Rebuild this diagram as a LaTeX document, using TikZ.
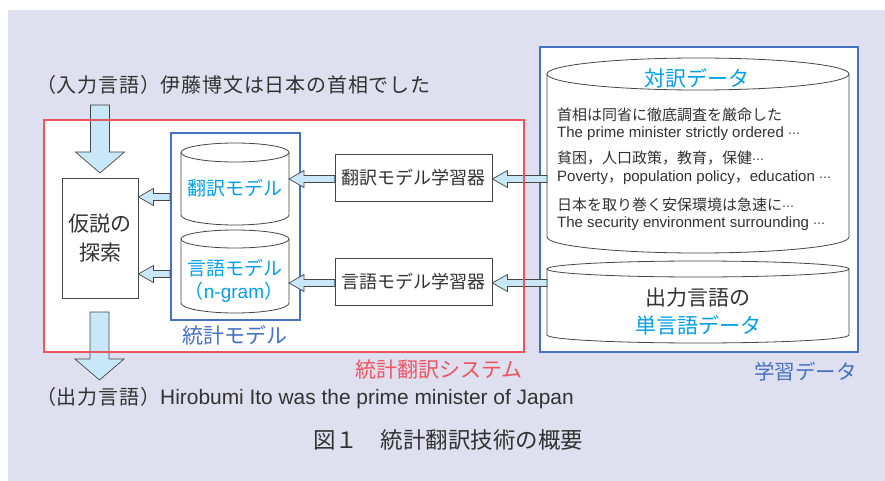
\documentclass[tikz,border=0pt]{standalone}
\usepackage{fontspec}
\setmainfont{Liberation Sans}
\newfontfamily\jp{Noto Sans CJK JP}
\newfontfamily\jpw[LetterSpace=4]{Noto Sans CJK JP}
\newfontfamily\dv{DejaVu Sans}
\newfontfamily\lat{Liberation Sans}
\usetikzlibrary{calc}
\definecolor{bgc}{RGB}{222,223,239}
\definecolor{redc}{RGB}{236,85,95}
\definecolor{bluec}{RGB}{70,112,192}
\definecolor{cyanc}{RGB}{0,160,230}
\definecolor{txtc}{RGB}{50,50,50}
\definecolor{arrfill}{RGB}{200,232,248}
\definecolor{linec}{RGB}{70,70,70}
\newcommand\fs[1]{\fontsize{#1}{#1}\selectfont}
\newcommand\mydots{{\dv\fontsize{12}{12}\selectfont ⋯}}
\tikzset{
  lbl/.style={inner sep=0pt, text=txtc, font=\jp},
  graybox/.style={draw=linec, line width=0.8pt, fill=white},
  blockarrow/.style={draw=linec, line width=0.7pt, fill=arrfill, line join=miter},
  cylside/.style={draw=linec, line width=0.8pt},
}
% left-pointing block arrow: #1 tail, #2 tip
\newcommand\larrow[2]{%
  \draw[blockarrow] let \p1=#1, \p2=#2 in
    (\x2,\y2) -- (\x2+15pt,\y2+8.5pt) -- (\x2+15pt,\y2+3.5pt) -- (\x1,\y2+3.5pt)
    -- (\x1,\y2-3.5pt) -- (\x2+15pt,\y2-3.5pt) -- (\x2+15pt,\y2-8.5pt) -- cycle;}
% downward block arrow: #1 tail, #2 tip
\newcommand\darrow[2]{%
  \draw[blockarrow] let \p1=#1, \p2=#2 in
    (\x2,\y2) -- (\x2-24.5pt,\y2+21pt) -- (\x2-9.5pt,\y2+21pt) -- (\x2-9.5pt,\y1)
    -- (\x2+9.5pt,\y1) -- (\x2+9.5pt,\y2+21pt) -- (\x2+24.5pt,\y2+21pt) -- cycle;}
% cylinder: #1 left, #2 right, #3 top center y, #4 top ry, #5 side bottom y, #6 bottom ry
\newcommand\cyl[6]{%
  \pgfmathsetmacro\rx{(#2-#1)/2}%
  \fill[white] (#1,#3) -- (#1,#5) arc[start angle=180,end angle=360,x radius=\rx pt,y radius=#6pt] -- (#2,#3) -- cycle;
  \draw[cylside] (#1,#3) -- (#1,#5) arc[start angle=180,end angle=360,x radius=\rx pt,y radius=#6pt] -- (#2,#3);
  \filldraw[cylside, fill=white] ({(#1+#2)/2},#3) ellipse[x radius=\rx pt, y radius=#4pt];}
\begin{document}
\begin{tikzpicture}[x=1pt,y=-1pt]
\useasboundingbox (0,0) rectangle (885,481);
\fill[bgc] (8,10) rectangle (885,481);
% system boxes
\fill[white] (44,120) rectangle (524,352);
\filldraw[draw=bluec, line width=2pt, fill=white] (540,47) rectangle (858,352);
\node[draw=bluec, line width=2pt, fill=white, minimum width=129pt, minimum height=187pt, inner sep=0pt] (stat) at (235.5,226.5) {};
% cylinders
\cyl{181}{289}{152.5}{9.5}{215}{10}
\cyl{181}{289}{239}{9}{303}{10}
\cyl{547}{849}{74}{16}{237}{16}
\cyl{547}{849}{269}{8}{335}{8}
\coordinate (tmE) at (289,179);
\coordinate (lmE) at (289,283);
\coordinate (parW) at (547,179);
\coordinate (monoW) at (547,283);
\coordinate (y1) at (0,197);
\coordinate (y2) at (0,274);
% boxes
\node[graybox, minimum width=76pt, minimum height=120pt, inner sep=0pt] (hyp) at (100,238) {};
\node[lbl, align=center, font=\jp\fs{21}] at (hyp.center) {仮説の\\[8pt]探索};
\node[graybox, minimum width=157pt, minimum height=47pt, inner sep=0pt] (tmtrain) at (413.5,177.5) {};
\node[lbl, font=\jp\fs{18}] at (tmtrain.center) {翻訳モデル学習器};
\node[graybox, minimum width=157pt, minimum height=47pt, inner sep=0pt] (lmtrain) at (413.5,281.5) {};
\node[lbl, font=\jp\fs{18}] at (lmtrain.center) {言語モデル学習器};
% texts in cylinders
\node[lbl, text=cyanc, font=\jp\fs{19}] (tm) at (235,188) {翻訳モデル};
\node[lbl, text=cyanc, font=\jp\fs{19}] (lm) at (235,268) {言語モデル};
\node[lbl, text=cyanc, font=\jp\fs{19}] (ngram) at (234,292) {（{\lat\fs{19}n-gram}）};
\node[lbl, text=bluec, font=\jp\fs{21}] (statl) at (235,335) {統計モデル};
\node[lbl, text=cyanc, font=\jp\fs{21}] (par) at (697,78) {対訳データ};
\node[lbl, anchor=west, font=\jp\fs{15}] (d1) at (557,115) {首相は同省に徹底調査を厳命した};
\node[lbl, anchor=west, font=\lat\fs{15}] (d2) at (557,134) {The prime minister strictly ordered \mydots};
\node[lbl, anchor=west, font=\jp\fs{15}] (d3) at (557,158) {貧困，人口政策，教育，保健\mydots};
\node[lbl, anchor=west, font=\lat\fs{15}] (d4) at (557,178) {Poverty{\jp ，}population policy{\jp ，}education \mydots};
\node[lbl, anchor=west, font=\jp\fs{15}] (d5) at (557,205) {日本を取り巻く安保環境は急速に\mydots};
\node[lbl, anchor=west, font=\lat\fs{15}] (d6) at (557,224) {The security environment surrounding \mydots};
\node[lbl, font=\jp\fs{21}] (mono1) at (698,298) {出力言語の};
\node[lbl, text=cyanc, font=\jp\fs{21}] (mono2) at (698,325) {単言語データ};
% labels
\node[lbl, anchor=east, text=bluec, font=\jp\fs{20.5}] (datal) at (857,372) {学習データ};
\node[lbl, anchor=east, text=redc, font=\jp\fs{21}] (sysl) at (523,370) {統計翻訳システム};
\node[lbl, anchor=west, font=\jpw\fs{20}] (inp) at (36,85) {（入力言語）伊藤博文は日本の首相でした};
\node[lbl, anchor=west, font=\jpw\fs{20}] (outp) at (36,398) {（出力言語）{\lat\fs{20.9}Hirobumi Ito was the prime minister of Japan}};
\node[lbl, anchor=west, font=\jp\fs{22.5}] (cap) at (313,440) {図１　統計翻訳技術の概要};
% arrows
\coordinate (inT) at (99.5,105);
\coordinate (outT) at (99.5,312);
\coordinate (outTip) at (99.5,380);
\darrow{(inT)}{(hyp.north |- 0,173)}
\darrow{(outT)}{(outTip)}
\larrow{(stat.west |- y1)}{(hyp.east |- y1)}
\larrow{(stat.west |- y2)}{(hyp.east |- y2)}
\larrow{(tmtrain.west |- tmE)}{(tmE)}
\larrow{(lmtrain.west |- lmE)}{(lmE)}
\larrow{(parW)}{(tmtrain.east |- parW)}
\larrow{(monoW)}{(lmtrain.east |- monoW)}
% red border on top
\draw[redc, line width=1.8pt] (44,120) rectangle (524,352);
\end{tikzpicture}
\end{document}
